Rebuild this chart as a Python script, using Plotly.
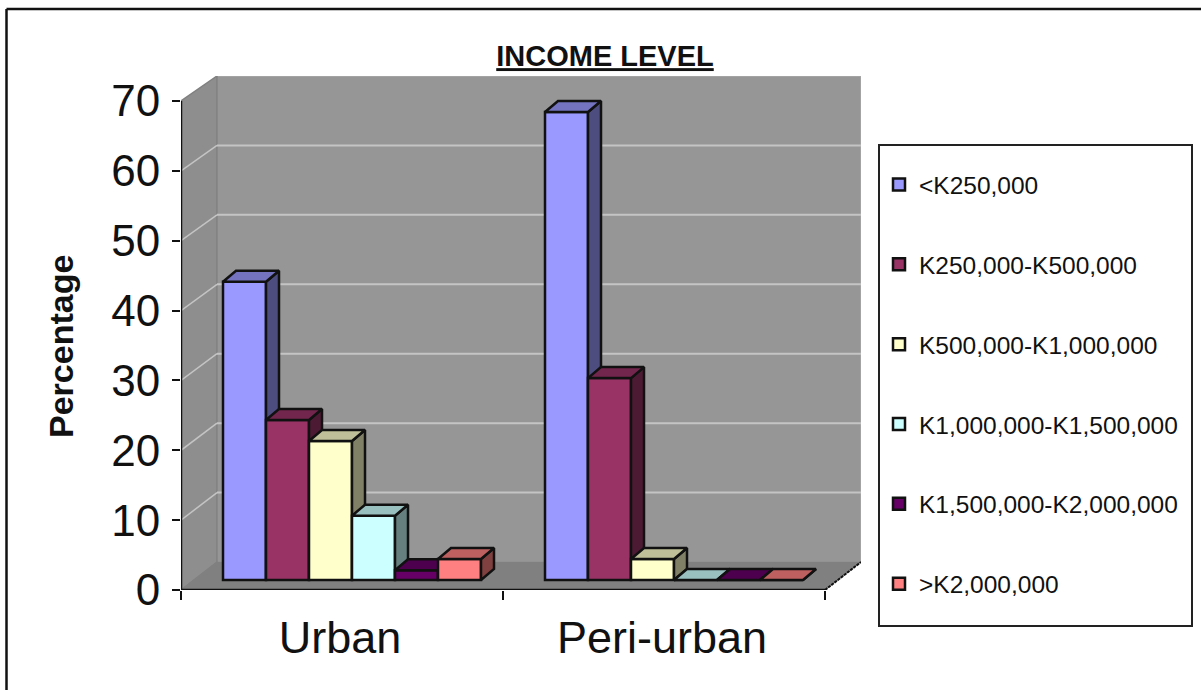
import plotly.graph_objects as go

categories = ["Urban", "Peri-urban"]
series_names = ["<K250,000", "K250,000-K500,000", "K500,000-K1,000,000",
                "K1,000,000-K1,500,000", "K1,500,000-K2,000,000", ">K2,000,000"]
lt_250k = [42.7, 67.0]
k250_500 = [22.9, 28.9]
k500_1m = [19.9, 3.0]
k1m_15m = [9.2, 0.0]
k15m_2m = [1.4, 0.0]
gt_2m = [3.0, 0.0]
series_values = [lt_250k, k250_500, k500_1m, k1m_15m, k15m_2m, gt_2m]
front_colors = ["#9999FF", "#993366", "#FFFFCC", "#CCFFFF", "#660066", "#FF8080"]
top_colors = ["#7373BF", "#73264D", "#BFBF99", "#99BFBF", "#4D004D", "#BF6060"]
side_colors = ["#4D4D80", "#4D1A33", "#808066", "#668080", "#330033", "#804040"]
y_ticks = [0, 10, 20, 30, 40, 50, 60, 70]

W, H = 1201, 690
L, R, T, B = 181, 861, 76, 590
PX_X = 322.0
PX_Y = (590 - 101) / 70.0
xmax = (R - L) / PX_X
ymax = (B - T) / PX_Y
lift = 10 / PX_Y
bar_w = 43 / PX_X
first_bar = 42 / PX_X
dx, dy = 13 / PX_X, 11 / PX_Y
wall_dx, wall_dy = 36 / PX_X, 28 / PX_Y
wall_unit = (562 - 76) / 70.0 / PX_Y


def px(x):
    return (x - L) / (R - L)


def py(y):
    return (B - y) / (B - T)


fig = go.Figure()
shapes = []
# walls and floor, from the axis ranges
shapes.append(dict(type="rect", xref="x", yref="y", x0=wall_dx, x1=xmax, y0=wall_dy, y1=ymax,
                   fillcolor="#969696", line=dict(color="#A8A8A8", width=1.5), layer="below"))
shapes.append(dict(type="path", xref="x", yref="y", layer="below", fillcolor="#8E8E8E",
                   line=dict(color="#808080", width=1.5),
                   path=f"M0,0 L0,70 L{wall_dx},{ymax} L{wall_dx},{wall_dy} Z"))
shapes.append(dict(type="path", xref="x", yref="y", layer="below", fillcolor="#808080",
                   line=dict(color="#808080", width=1),
                   path=f"M0,0 L{wall_dx},{wall_dy} L{xmax},{wall_dy} L{xmax - wall_dx},0 Z"))
for v in y_ticks[1:-1]:
    yb = wall_dy + v * wall_unit
    shapes.append(dict(type="line", xref="x", yref="y", x0=wall_dx, x1=xmax, y0=yb, y1=yb,
                       line=dict(color="#C4C4C4", width=2), layer="below"))
    shapes.append(dict(type="line", xref="x", yref="y", x0=0, x1=wall_dx, y0=v, y1=yb,
                       line=dict(color="#C4C4C4", width=1.5), layer="below"))
# axis lines
shapes.append(dict(type="line", xref="x", yref="y", x0=0, x1=0, y0=0, y1=70,
                   line=dict(color="#111111", width=2.5)))
shapes.append(dict(type="line", xref="x", yref="y", x0=0, x1=xmax - wall_dx, y0=0, y1=0,
                   line=dict(color="#111111", width=2.5)))
shapes.append(dict(type="line", xref="x", yref="y", x0=xmax - wall_dx, x1=xmax, y0=0, y1=wall_dy,
                   line=dict(color="#111111", width=2, dash="3px,1px")))
# outer frame (top and left only) and legend box
shapes.append(dict(type="line", xref="paper", yref="paper", x0=px(6.5), x1=px(1201), y0=py(9), y1=py(9),
                   line=dict(color="#111111", width=2.5)))
shapes.append(dict(type="line", xref="paper", yref="paper", x0=px(6.5), x1=px(6.5), y0=py(9), y1=py(690),
                   line=dict(color="#111111", width=2.5)))
shapes.append(dict(type="rect", xref="paper", yref="paper", x0=px(879), x1=px(1192), y0=py(626), y1=py(145),
                   line=dict(color="#222222", width=2), fillcolor="white"))

# base trace keeps the main axes alive
fig.add_trace(go.Scatter(x=[0, xmax], y=[0, ymax], mode="none", showlegend=False, hoverinfo="skip"))

for i, (name, vals) in enumerate(zip(series_names, series_values)):
    ax = str(i + 2)
    xs, ys = [], []
    tx, ty, sx, sy = [], [], [], []
    for c, v in enumerate(vals):
        x0 = c + first_bar + i * bar_w
        x1 = x0 + bar_w
        h = lift + v
        xs.append(x0 + bar_w / 2)
        ys.append(v)
        tx += [x0, x0 + dx, x1 + dx, x1, x0, None]
        ty += [h, h + dy, h + dy, h, h, None]
        sx += [x1, x1 + dx, x1 + dx, x1, x1, None]
        sy += [h, h + dy, lift + dy, lift, h, None]
    fig.add_trace(go.Bar(x=xs, y=ys, base=lift, width=bar_w, name=name, legendgroup=name,
                         marker=dict(color=front_colors[i], line=dict(color="#111111", width=2.5)),
                         xaxis="x" + ax, yaxis="y" + ax))
    for fx, fy, col in ((sx, sy, side_colors[i]), (tx, ty, top_colors[i])):
        fig.add_trace(go.Scatter(x=fx, y=fy, mode="lines", fill="toself", fillcolor=col,
                                 line=dict(color="#111111", width=2.5), showlegend=False,
                                 legendgroup=name, hoverinfo="skip",
                                 xaxis="x" + ax, yaxis="y" + ax))
    fig.update_layout({
        "xaxis" + ax: dict(overlaying="x", range=[0, xmax], visible=False, fixedrange=True),
        "yaxis" + ax: dict(overlaying="y", range=[0, ymax], visible=False, fixedrange=True),
    })

FONT = "Liberation Sans"
fig.update_layout(
    width=W, height=H, autosize=False,
    paper_bgcolor="white", plot_bgcolor="rgba(0,0,0,0)",
    margin=dict(l=L, r=W - R, t=T, b=H - B, pad=0),
    barmode="overlay",
    font=dict(family=FONT, color="#111111"),
    shapes=shapes,
    title=dict(text="<b>INCOME LEVEL</b>", x=605 / W, xref="container", xanchor="center",
               y=1 - 56 / H, yref="container", yanchor="middle",
               font=dict(family=FONT, size=29, color="#111111", lineposition="under")),
    xaxis=dict(range=[0, xmax], tickmode="array", tickvals=[0.494, 1.494], ticktext=categories,
               showgrid=False, zeroline=False, showline=False, ticks="", ticklabelstandoff=17,
               tickfont=dict(family=FONT, size=45, color="#111111"),
               minor=dict(tickmode="array", tickvals=[0, 1, 2], ticks="outside", ticklen=9,
                          tickwidth=2, tickcolor="#111111", showgrid=False)),
    yaxis=dict(range=[0, ymax], tickmode="array", tickvals=y_ticks, showgrid=False, zeroline=False,
               showline=False, ticks="outside", ticklen=8, tickwidth=2, tickcolor="#111111",
               ticklabelstandoff=3, tickfont=dict(family=FONT, size=44, color="#111111")),
    legend=dict(x=px(879), xanchor="left", y=py(162), yanchor="top", bgcolor="rgba(0,0,0,0)",
                borderwidth=0, tracegroupgap=45, traceorder="grouped",
                font=dict(family=FONT, size=24.5, color="#111111")),
    annotations=[dict(text="<b>Percentage</b>", xref="paper", yref="paper", x=px(61), y=py(346),
                      xanchor="center", yanchor="middle", textangle=-90, showarrow=False,
                      font=dict(family=FONT, size=34, color="#111111"))],
)
fig.write_html("out.html", config={"displayModeBar": False},
               post_script="document.body.style.margin='0';")
